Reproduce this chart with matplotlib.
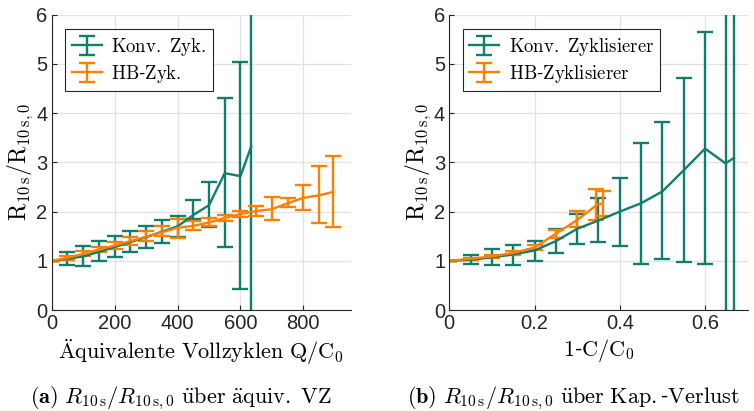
import matplotlib
matplotlib.use("Agg")
import matplotlib.pyplot as plt
import numpy as np

plt.rcParams["mathtext.fontset"] = "cm"
plt.rcParams["font.family"] = ["Liberation Sans", "DejaVu Sans"]

GREEN = "#0f7f6b"
ORANGE = "#ff8000"
GRID = "#e2e2e2"

# (a) resistance ratio over equivalent full cycles
konv_q = [0, 50, 100, 150, 200, 250, 300, 350, 400, 450, 500, 550, 600, 634]
konv_q_mean = [1.00, 1.04, 1.09, 1.18, 1.28, 1.38, 1.48, 1.59, 1.70, 1.93, 2.13, 2.78, 2.72, 3.32]
konv_q_lo = [1.00, 0.91, 0.90, 0.99, 1.08, 1.17, 1.25, 1.36, 1.49, 1.85, 1.69, 1.29, 0.43, -1.0]
konv_q_hi = [1.00, 1.17, 1.30, 1.41, 1.51, 1.61, 1.71, 1.82, 1.91, 2.24, 2.60, 4.30, 5.03, 7.5]

hb_q = [0, 50, 100, 150, 200, 250, 300, 350, 400, 450, 500, 550, 600, 650, 700, 750, 800, 850, 895]
hb_q_mean = [1.00, 1.06, 1.14, 1.23, 1.31, 1.40, 1.49, 1.58, 1.67, 1.71, 1.78, 1.87, 1.95, 2.01, 2.05, 2.17, 2.28, 2.33, 2.40]
hb_q_lo = [1.00, 1.02, 1.10, 1.18, 1.24, 1.32, 1.41, 1.50, 1.47, 1.62, 1.70, 1.80, 1.90, 1.92, 1.82, 2.09, 2.03, 1.77, 1.68]
hb_q_hi = [1.00, 1.09, 1.19, 1.29, 1.39, 1.49, 1.60, 1.70, 1.85, 1.80, 1.86, 1.93, 2.01, 2.11, 2.29, 2.27, 2.55, 2.93, 3.13]

# (b) resistance ratio over capacity loss
konv_c = [0, 0.05, 0.10, 0.15, 0.20, 0.25, 0.30, 0.35, 0.40, 0.45, 0.50, 0.55, 0.60, 0.648, 0.668]
konv_c_mean = [1.00, 1.02, 1.07, 1.13, 1.21, 1.40, 1.65, 1.82, 2.00, 2.17, 2.41, 2.84, 3.28, 2.98, 3.09]
konv_c_lo = [1.00, 0.94, 0.91, 0.91, 1.00, 1.16, 1.35, 1.39, 1.31, 0.94, 1.03, 0.98, 0.93, -1.0, -1.0]
konv_c_hi = [1.00, 1.11, 1.23, 1.33, 1.41, 1.65, 1.95, 2.27, 2.69, 3.40, 3.82, 4.71, 5.64, 7.5, 7.5]

hb_c = [0, 0.05, 0.10, 0.15, 0.20, 0.25, 0.30, 0.345, 0.36]
hb_c_mean = [1.00, 1.04, 1.09, 1.16, 1.27, 1.55, 1.83, 2.13, 2.17]
hb_c_lo = [1.00, 1.02, 1.06, 1.12, 1.22, 1.46, 1.68, 1.82, 1.92]
hb_c_hi = [1.00, 1.06, 1.12, 1.20, 1.32, 1.62, 2.02, 2.45, 2.42]

ylabel = r"$\mathrm{R_{10\,s}/R_{10\,s,0}}$"


def draw_series(ax, x, m, lo, hi, color, label):
    m = np.asarray(m)
    yerr = np.vstack([m - np.asarray(lo), np.asarray(hi) - m])
    ax.errorbar(x, m, yerr=yerr, color=color, lw=1.7, elinewidth=1.7,
                capsize=5.5, capthick=1.7, label=label)


def style_axes(ax, xlim, xticks, xticklabels, xlabel):
    ax.set_xlim(*xlim)
    ax.set_ylim(0, 6)
    ax.set_xticks(xticks)
    ax.set_xticklabels(xticklabels)
    ax.set_yticks(range(7))
    ax.grid(True, color=GRID, lw=0.9)
    ax.set_axisbelow(True)
    for s in ("top", "right"):
        ax.spines[s].set_visible(False)
    for s in ("left", "bottom"):
        ax.spines[s].set_color("#262626")
        ax.spines[s].set_linewidth(0.8)
    ax.tick_params(direction="in", length=3.5, width=0.8, colors="#262626",
                   labelsize=14.5, pad=3)
    ax.set_xlabel(xlabel, fontsize=16, labelpad=3)
    ax.set_ylabel(ylabel, fontsize=17, labelpad=1)


fig = plt.figure(figsize=(7.54, 4.11), dpi=100)
ax1 = fig.add_axes([0.0686, 0.2457, 0.3963, 0.7185])
ax2 = fig.add_axes([0.5959, 0.2457, 0.3957, 0.7185])

draw_series(ax1, konv_q, konv_q_mean, konv_q_lo, konv_q_hi, GREEN, r"$\mathrm{Konv.\ Zyk.}$")
draw_series(ax1, hb_q, hb_q_mean, hb_q_lo, hb_q_hi, ORANGE, r"$\mathrm{HB}$-$\mathrm{Zyk.}$")
style_axes(ax1, (0, 950), [0, 200, 400, 600, 800], ["0", "200", "400", "600", "800"],
           r"$\mathrm{\ddot{A}quivalente\ Vollzyklen\ Q/C_0}$")

draw_series(ax2, konv_c, konv_c_mean, konv_c_lo, konv_c_hi, GREEN, r"$\mathrm{Konv.\ Zyklisierer}$")
draw_series(ax2, hb_c, hb_c_mean, hb_c_lo, hb_c_hi, ORANGE, r"$\mathrm{HB}$-$\mathrm{Zyklisierer}$")
style_axes(ax2, (0, 0.7), [0, 0.2, 0.4, 0.6], ["0", "0.2", "0.4", "0.6"],
           r"$\mathrm{1}$-$\mathrm{C/C_0}$")

for ax in (ax1, ax2):
    leg = ax.legend(loc="upper left", bbox_to_anchor=(0.045, 0.95), fontsize=13.5,
                    frameon=True, fancybox=False, framealpha=1, edgecolor="#262626",
                    handlelength=1.6, handletextpad=0.5, borderpad=0.35,
                    labelspacing=0.25, borderaxespad=0)
    leg.get_frame().set_linewidth(0.8)

fig.text(0.240, 0.018, r"$\mathbf{(a)}\ R_{10\,\mathrm{s}}/R_{10\,\mathrm{s},0}\ \mathrm{\ddot{u}ber\ \ddot{a}quiv.\ VZ}$",
         ha="center", va="baseline", fontsize=16)
fig.text(0.761, 0.018, r"$\mathbf{(b)}\ R_{10\,\mathrm{s}}/R_{10\,\mathrm{s},0}\ \mathrm{\ddot{u}ber\ Kap.}$-$\mathrm{Verlust}$",
         ha="center", va="baseline", fontsize=16)

fig.savefig("out.png", dpi=100)
